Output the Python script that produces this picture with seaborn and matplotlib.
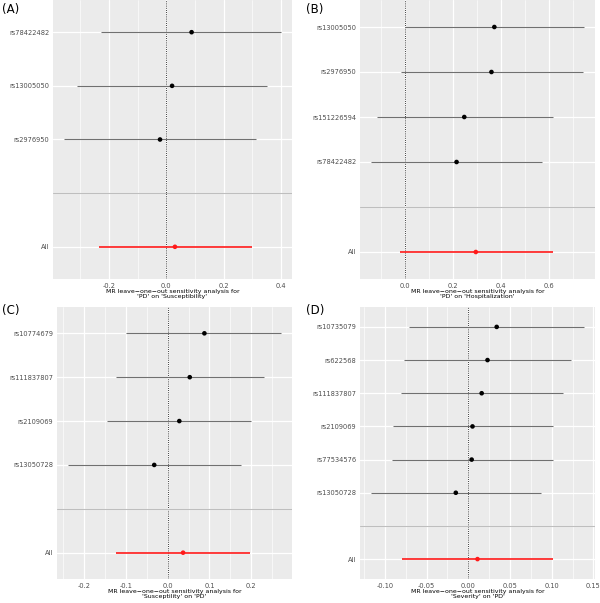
import numpy as np
import pandas as pd
import matplotlib
matplotlib.use("Agg")
import matplotlib.pyplot as plt
import seaborn as sns
from matplotlib.ticker import MultipleLocator, FormatStrFormatter

# ---------------- data ----------------
A_snp = ["rs78422482", "rs13005050", "rs2976950"]
A_b = [0.088, 0.020, -0.022]
A_lo = [-0.226, -0.311, -0.357]
A_hi = [0.400, 0.351, 0.313]
A_all = [0.030, -0.235, 0.297]

B_snp = ["rs13005050", "rs2976950", "rs151226594", "rs78422482"]
B_b = [0.372, 0.360, 0.247, 0.215]
B_lo = [0.000, -0.015, -0.115, -0.142]
B_hi = [0.746, 0.739, 0.614, 0.570]
B_all = [0.295, -0.022, 0.614]

C_snp = ["rs10774679", "rs111837807", "rs2109069", "rs13050728"]
C_b = [0.088, 0.053, 0.028, -0.032]
C_lo = [-0.100, -0.123, -0.144, -0.239]
C_hi = [0.272, 0.231, 0.199, 0.175]
C_all = [0.037, -0.123, 0.197]

D_snp = ["rs10735079", "rs622568", "rs111837807", "rs2109069", "rs77534576", "rs13050728"]
D_b = [0.034, 0.023, 0.016, 0.005, 0.004, -0.015]
D_lo = [-0.071, -0.077, -0.081, -0.090, -0.091, -0.117]
D_hi = [0.139, 0.123, 0.114, 0.101, 0.101, 0.087]
D_all = [0.011, -0.080, 0.101]

head = "MR leave\u2212one\u2212out sensitivity analysis for\n"
titles = [head + "'PD' on 'Susceptibility'",
          head + "'PD' on 'Hospitalization'",
          head + "'Susceptility' on 'PD'",
          head + "'Severity' on 'PD'"]
panel_labels = ["(A)", "(B)", "(C)", "(D)"]

# ---------------- style ----------------
sns.set_theme(style="darkgrid")
plt.rcParams['font.family'] = ['DejaVu Sans']
plt.rcParams['axes.unicode_minus'] = True

W, H = 600, 603
fig = plt.figure(figsize=(W / 100, H / 100), dpi=100)
fig.patch.set_facecolor("white")


def rect(x0, y0, x1, y1):
    return [x0 / W, 1 - y1 / H, (x1 - x0) / W, (y1 - y0) / H]


def panel(ax, snps, b, lo, hi, allv, major, fmt, title):
    labels = ["All", ""] + snps[::-1]
    posmap = {l: i + 1 for i, l in enumerate(labels)}
    df = pd.DataFrame({"SNP": snps + ["All"],
                       "b": b + [allv[0]],
                       "lo": lo + [allv[1]],
                       "hi": hi + [allv[2]]})
    df["pos"] = df["SNP"].map(posmap)
    df["is_all"] = df["SNP"] == "All"

    ax.set_facecolor("#EBEBEB")
    ax.set_axisbelow(True)
    for s in ax.spines.values():
        s.set_visible(False)

    snp_rows = df[~df.is_all]
    all_rows = df[df.is_all]
    ax.hlines(snp_rows["pos"], snp_rows["lo"], snp_rows["hi"],
              colors="#707070", lw=0.8, zorder=2)
    ax.hlines(all_rows["pos"], all_rows["lo"], all_rows["hi"],
              colors="#FF1A1A", lw=1.2, zorder=2)
    sns.scatterplot(data=df, x="b", y="pos", hue="is_all",
                    palette={False: "black", True: "#FF1A1A"},
                    s=11, linewidth=0, legend=False, ax=ax, zorder=3)
    ax.axvline(0, color="black", lw=0.6, ls=(0, (1, 1.6)), zorder=1.5)
    ax.axhline(posmap[""], color="#BEBEBE", lw=0.8, zorder=1.5)

    xmin, xmax = df["lo"].min(), df["hi"].max()
    pad = 0.05 * (xmax - xmin)
    ax.set_xlim(xmin - pad, xmax + pad)
    ax.set_ylim(0.4, len(labels) + 0.6)
    ax.set_yticks(range(1, len(labels) + 1))
    ax.set_yticklabels(labels)

    ax.xaxis.set_major_locator(MultipleLocator(major))
    ax.xaxis.set_minor_locator(MultipleLocator(major / 2))
    ax.xaxis.set_major_formatter(FormatStrFormatter(fmt))

    ax.grid(which="major", axis="both", color="white", lw=0.9)
    ax.grid(which="minor", axis="x", color="white", lw=0.45)
    ax.tick_params(axis="both", which="major", length=1.6, width=0.5,
                   color="#333333", labelsize=4.8, labelcolor="#4D4D4D", pad=1.0)
    ax.tick_params(axis="both", which="minor", length=0)
    ax.set_xlabel(title, fontsize=4.5, labelpad=0.5, linespacing=0.85, color="black")
    ax.set_ylabel("")


axA = fig.add_axes(rect(53, 0, 292, 279))
axB = fig.add_axes(rect(360, 0, 595, 279))
axC = fig.add_axes(rect(57, 307, 292, 579))
axD = fig.add_axes(rect(360, 307, 595, 579))

panel(axA, A_snp, A_b, A_lo, A_hi, A_all, 0.2, "%.1f", titles[0])
panel(axB, B_snp, B_b, B_lo, B_hi, B_all, 0.2, "%.1f", titles[1])
panel(axC, C_snp, C_b, C_lo, C_hi, C_all, 0.1, "%.1f", titles[2])
panel(axD, D_snp, D_b, D_lo, D_hi, D_all, 0.05, "%.2f", titles[3])

for (x, y), lab in zip([(2, 3), (306, 3), (2, 304), (306, 304)], panel_labels):
    fig.text(x / W, 1 - y / H, lab, ha="left", va="top", fontsize=8.5, color="black")

fig.savefig("out.png", dpi=100, facecolor="white")
